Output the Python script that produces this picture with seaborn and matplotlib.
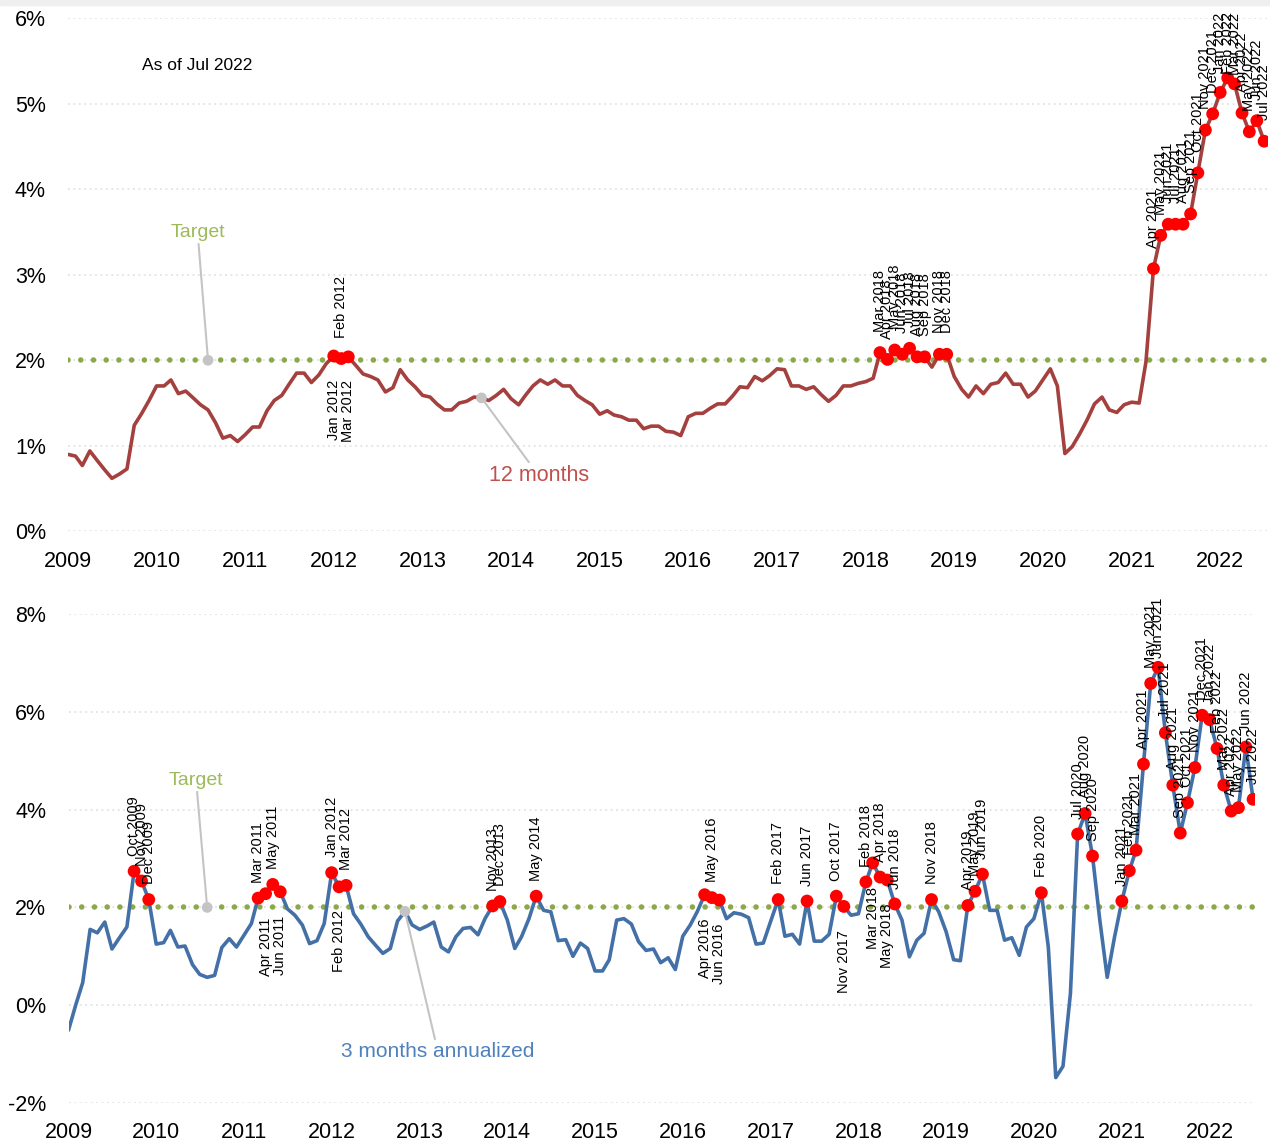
import numpy as np
import pandas as pd
import matplotlib
matplotlib.use("Agg")
import matplotlib.pyplot as plt
import matplotlib.dates as mdates
from matplotlib.patches import Rectangle
import seaborn as sns

# ---------------- data ----------------
months = pd.date_range("2009-01-01", periods=163, freq="MS")

twelve_month = [
    0.90, 0.88, 0.77, 0.94, 0.83, 0.72, 0.62, 0.67, 0.73, 1.24, 1.38, 1.53,
    1.70, 1.70, 1.77, 1.61, 1.64, 1.56, 1.48, 1.42, 1.27, 1.09, 1.12, 1.05,
    1.13, 1.22, 1.22, 1.41, 1.53, 1.59, 1.72, 1.85, 1.85, 1.74, 1.83, 1.96,
    2.05, 2.02, 2.04, 1.94, 1.84, 1.81, 1.77, 1.63, 1.68, 1.89, 1.77, 1.69,
    1.59, 1.57, 1.49, 1.42, 1.42, 1.50, 1.52, 1.57, 1.56, 1.53, 1.59, 1.66,
    1.55, 1.48, 1.59, 1.70, 1.77, 1.72, 1.77, 1.70, 1.70, 1.59, 1.53, 1.48,
    1.37, 1.41, 1.36, 1.34, 1.30, 1.30, 1.20, 1.23, 1.23, 1.17, 1.16, 1.12,
    1.34, 1.38, 1.38, 1.44, 1.49, 1.49, 1.58, 1.69, 1.68, 1.81, 1.76, 1.82,
    1.90, 1.89, 1.70, 1.70, 1.66, 1.69, 1.60, 1.52, 1.59, 1.70, 1.70, 1.73,
    1.75, 1.79, 2.09, 2.01, 2.12, 2.07, 2.14, 2.04, 2.04, 1.92, 2.07, 2.07,
    1.81, 1.66, 1.57, 1.70, 1.61, 1.72, 1.74, 1.85, 1.72, 1.72, 1.57, 1.64,
    1.77, 1.90, 1.70, 0.91, 0.99, 1.14, 1.30, 1.49, 1.57, 1.42, 1.39, 1.48,
    1.51, 1.50, 1.98, 3.07, 3.46, 3.59, 3.59, 3.59, 3.71, 4.19, 4.69, 4.88,
    5.13, 5.30, 5.23, 4.89, 4.67, 4.80, 4.56,
]

three_month_ann = [
    -0.51, 0.02, 0.46, 1.55, 1.48, 1.70, 1.15, 1.38, 1.60, 2.74, 2.54, 2.16,
    1.25, 1.28, 1.53, 1.19, 1.21, 0.83, 0.63, 0.57, 0.61, 1.18, 1.36, 1.19,
    1.43, 1.67, 2.19, 2.28, 2.47, 2.32, 1.97, 1.84, 1.64, 1.26, 1.32, 1.67,
    2.71, 2.42, 2.45, 1.87, 1.66, 1.40, 1.23, 1.06, 1.16, 1.72, 1.92, 1.64,
    1.55, 1.62, 1.70, 1.19, 1.09, 1.40, 1.57, 1.59, 1.44, 1.78, 2.03, 2.12,
    1.74, 1.16, 1.40, 1.77, 2.23, 1.94, 1.91, 1.32, 1.34, 1.00, 1.27, 1.16,
    0.70, 0.70, 0.93, 1.74, 1.77, 1.66, 1.30, 1.12, 1.15, 0.87, 0.97, 0.73,
    1.41, 1.64, 1.91, 2.26, 2.20, 2.15, 1.77, 1.89, 1.86, 1.79, 1.25, 1.27,
    1.72, 2.16, 1.41, 1.45, 1.25, 2.13, 1.31, 1.31, 1.45, 2.23, 2.02, 1.84,
    1.87, 2.52, 2.91, 2.62, 2.56, 2.07, 1.74, 0.99, 1.33, 1.47, 2.16, 1.91,
    1.50, 0.93, 0.91, 2.04, 2.33, 2.68, 1.94, 1.94, 1.33, 1.38, 1.02, 1.60,
    1.77, 2.30, 1.19, -1.48, -1.25, 0.24, 3.50, 3.92, 3.05, 1.75, 0.57, 1.38,
    2.13, 2.75, 3.17, 4.93, 6.58, 6.91, 5.57, 4.50, 3.52, 4.14, 4.86, 5.93,
    5.84, 5.25, 4.50, 3.97, 4.04, 5.28, 4.21,
]

target = 2.0
top_yticks = [0, 1, 2, 3, 4, 5, 6]
bottom_yticks = [-2, 0, 2, 4, 6, 8]
top_labels_below = ["Jan 2012", "Mar 2012"]
bottom_labels_below = ["Apr 2011", "Jun 2011", "Feb 2012", "Apr 2016",
                       "Jun 2016", "Nov 2017", "Mar 2018", "May 2018"]
top_series_name = "12 months"
bottom_series_name = "3 months annualized"
as_of_text = "As of Jul 2022"
target_text = "Target"

df_top = pd.DataFrame({"date": months, "value": twelve_month})
df_bot = pd.DataFrame({"date": months, "value": three_month_ann})

# ---------------- style ----------------
sns.set_theme(style="white")
plt.rcParams["font.family"] = ["Liberation Sans", "DejaVu Sans"]

RED_LINE = "#A4403D"
BLUE_LINE = "#4470A8"
DOT_RED = "#FF0000"
TARGET_GREEN = "#8BA84A"
TARGET_TEXT = "#9BBB59"
GRAY = "#C4C4C4"

W, H = 1270, 1147
fig = plt.figure(figsize=(W / 100, H / 100), dpi=100)
fig.patches.append(Rectangle((0, 1 - 5 / H), 1, 5 / H, transform=fig.transFigure,
                             color="#EFEFEF", zorder=0))


def axes_px(l, t, r, b):
    return fig.add_axes([l / W, 1 - b / H, (r - l) / W, (b - t) / H])


ax1 = axes_px(68, 18, 1268, 531.4)
ax2 = axes_px(68.5, 614, 1255, 1103)


def style_axis(ax, yticks, xright):
    ax.set_ylim(yticks[0], yticks[-1])
    ax.set_yticks(yticks)
    ax.set_yticklabels([f"{t}%" for t in yticks])
    ax.set_xlim(pd.Timestamp("2009-01-01"), xright)
    ax.xaxis.set_major_locator(mdates.YearLocator())
    ax.xaxis.set_major_formatter(mdates.DateFormatter("%Y"))
    for sp in ax.spines.values():
        sp.set_visible(False)
    ax.tick_params(axis="both", length=0, labelsize=15.5, colors="black")
    ax.tick_params(axis="y", pad=16)
    ax.tick_params(axis="x", pad=14)
    ax.grid(axis="y", color="#E3E3E3", linestyle=(0, (1, 2)), lw=1.3)
    ax.set_axisbelow(True)
    ax.axhline(target, color=TARGET_GREEN, lw=4, linestyle=(0, (0.01, 2.28)),
               dash_capstyle="round", zorder=1)


def mark_points(ax, df, below, gap_above, gap_below):
    over = df[df["value"] > target]
    sns.scatterplot(data=over, x="date", y="value", ax=ax, color=DOT_RED, s=85,
                    edgecolor="none", zorder=4, legend=False)
    texts = []
    for d, v in zip(over["date"], over["value"]):
        lab = d.strftime("%b %Y")
        if lab in below:
            off, va = -gap_below, "top"
        else:
            off, va = gap_above, "bottom"
        t = ax.annotate(lab, (d, v), xytext=(0, off), textcoords="offset points",
                        rotation=90, ha="center", va=va, fontsize=10.5,
                        color="black", zorder=5, annotation_clip=False)
        texts.append((t, off))
    return texts


def callout(ax, text, xy, xytext, color, size):
    ax.scatter([xy[0]], [xy[1]], s=60, color=GRAY, zorder=3, edgecolor="none")
    ax.annotate(text, xy=xy, xytext=xytext, textcoords="axes fraction",
                ha="center", va="center", fontsize=size, color=color,
                arrowprops=dict(arrowstyle="-", color=GRAY, lw=1.5,
                                shrinkA=0, shrinkB=0))


# ---------------- top panel ----------------
sns.lineplot(data=df_top, x="date", y="value", ax=ax1, color=RED_LINE, lw=2.6,
             zorder=2)
style_axis(ax1, top_yticks, pd.Timestamp("2022-07-17"))
top_texts = mark_points(ax1, df_top, top_labels_below, 15, 17)
callout(ax1, target_text, (pd.Timestamp("2010-08-01"), target), (0.108, 0.583),
        TARGET_TEXT, 14)
callout(ax1, top_series_name, (pd.Timestamp("2013-09-01"), twelve_month[56]),
        (0.3925, 0.108), "#C0504D", 15.5)
ax1.text(0.1075, 0.907, as_of_text, transform=ax1.transAxes, ha="center",
         va="center", fontsize=12.5, color="black")

# ---------------- bottom panel ----------------
sns.lineplot(data=df_bot, x="date", y="value", ax=ax2, color=BLUE_LINE, lw=2.6,
             zorder=2)
style_axis(ax2, bottom_yticks, pd.Timestamp("2022-07-09"))
bot_texts = mark_points(ax2, df_bot, bottom_labels_below, 11, 17)
callout(ax2, target_text, (pd.Timestamp("2010-08-01"), target), (0.1075, 0.6605),
        TARGET_TEXT, 14)
callout(ax2, bottom_series_name, (pd.Timestamp("2012-11-01"), three_month_ann[46]),
        (0.3114, 0.1043), "#4F81BD", 15)

for ax in (ax1, ax2):
    ax.set_xlabel("")
    ax.set_ylabel("")

# keep labels inside the panel (push them down toward their point if needed)
fig.canvas.draw()
renderer = fig.canvas.get_renderer()
px_per_pt = fig.dpi / 72.0
for ax, texts, margin in ((ax1, top_texts, 5), (ax2, bot_texts, 16)):
    limit = ax.get_window_extent(renderer).y1 + margin
    for t, off in texts:
        if off <= 0:
            continue
        bb = t.get_window_extent(renderer)
        if bb.y1 > limit:
            shift = (bb.y1 - limit) / px_per_pt
            t.xyann = (0, max(off - shift, 3))

fig.savefig("out.png", dpi=100)
